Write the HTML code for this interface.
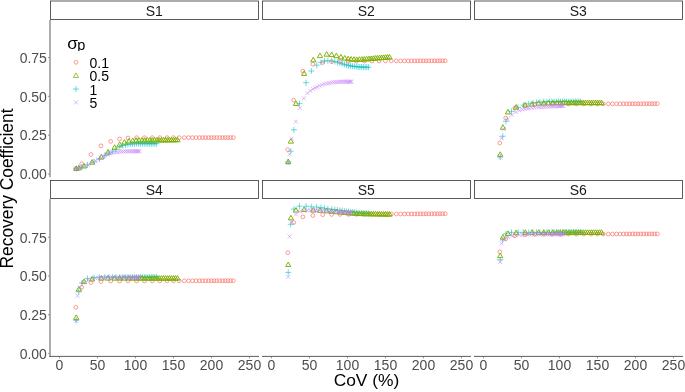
<!DOCTYPE html>
<html><head><meta charset="utf-8"><title>Recovery Coefficient vs CoV</title>
<style>
html,body{margin:0;padding:0;background:#fff}
svg{display:block;font-family:"Liberation Sans",Arial,Helvetica,sans-serif}
.s0,.s1,.s2,.s3{fill:none;stroke-width:.75}
.s0{stroke:#F8766D;stroke-width:.72}.s1{stroke:#7CAE00;stroke-width:.95;stroke-linejoin:round}.s2{stroke:#00BFC4;stroke-width:.58}.s3{stroke:#C77CFF;stroke-width:.55}
.tk{font-size:14px;fill:#4d4d4d}
.st{font-size:14px;fill:#1a1a1a;text-anchor:middle}
.lg{font-size:14px;fill:#000}
.ti{font-size:17.4px;fill:#000;text-anchor:middle}
.ax{stroke:#333;stroke-width:.8;fill:none}
.tc{stroke:#4d4d4d;stroke-width:.6;fill:none}
.sb{stroke:#333;stroke-width:.8;fill:#fff}
</style></head><body>
<svg width="685" height="392" viewBox="0 0 685 392">
<rect width="685" height="392" fill="#fff"/>
<rect class="sb" x="50.5" y="1" width="208" height="18.45"/><text class="st" x="154.2" y="15.7">S1</text>
<rect class="sb" x="262.5" y="1" width="208" height="18.45"/><text class="st" x="366.2" y="15.7">S2</text>
<rect class="sb" x="474.5" y="1" width="208" height="18.45"/><text class="st" x="578.2" y="15.7">S3</text>
<rect class="sb" x="50.5" y="180.5" width="208" height="18"/><text class="st" x="154.2" y="195">S4</text>
<rect class="sb" x="262.5" y="180.5" width="208" height="18"/><text class="st" x="366.2" y="195">S5</text>
<rect class="sb" x="474.5" y="180.5" width="208" height="18"/><text class="st" x="578.2" y="195">S6</text>
<path class="ax" d="M50 20V177.1"/><path class="ax" d="M50 199.2V356.9"/><path class="ax" d="M49.5 356.4H259"/><path class="ax" d="M262 356.4H471"/><path class="ax" d="M474 356.4H683"/>
<path class="tc" d="M48 174H49.4"/><text class="tk" text-anchor="end" x="46.9" y="179.2">0.00</text><path class="tc" d="M48 135.17H49.4"/><text class="tk" text-anchor="end" x="46.9" y="140.37">0.25</text><path class="tc" d="M48 96.34H49.4"/><text class="tk" text-anchor="end" x="46.9" y="101.54">0.50</text><path class="tc" d="M48 57.51H49.4"/><text class="tk" text-anchor="end" x="46.9" y="62.71">0.75</text><path class="tc" d="M48 353.4H49.4"/><text class="tk" text-anchor="end" x="46.9" y="358.6">0.00</text><path class="tc" d="M48 314.7H49.4"/><text class="tk" text-anchor="end" x="46.9" y="319.9">0.25</text><path class="tc" d="M48 276H49.4"/><text class="tk" text-anchor="end" x="46.9" y="281.2">0.50</text><path class="tc" d="M48 237.3H49.4"/><text class="tk" text-anchor="end" x="46.9" y="242.5">0.75</text>
<path class="tc" d="M59.5 356.9V358.3"/><text class="tk" text-anchor="middle" x="59.5" y="369.6">0</text><path class="tc" d="M97.5 356.9V358.3"/><text class="tk" text-anchor="middle" x="97.5" y="369.6">50</text><path class="tc" d="M135.5 356.9V358.3"/><text class="tk" text-anchor="middle" x="135.5" y="369.6">100</text><path class="tc" d="M173.5 356.9V358.3"/><text class="tk" text-anchor="middle" x="173.5" y="369.6">150</text><path class="tc" d="M211.5 356.9V358.3"/><text class="tk" text-anchor="middle" x="211.5" y="369.6">200</text><path class="tc" d="M249.5 356.9V358.3"/><text class="tk" text-anchor="middle" x="249.5" y="369.6">250</text><path class="tc" d="M271.5 356.9V358.3"/><text class="tk" text-anchor="middle" x="271.5" y="369.6">0</text><path class="tc" d="M309.5 356.9V358.3"/><text class="tk" text-anchor="middle" x="309.5" y="369.6">50</text><path class="tc" d="M347.5 356.9V358.3"/><text class="tk" text-anchor="middle" x="347.5" y="369.6">100</text><path class="tc" d="M385.5 356.9V358.3"/><text class="tk" text-anchor="middle" x="385.5" y="369.6">150</text><path class="tc" d="M423.5 356.9V358.3"/><text class="tk" text-anchor="middle" x="423.5" y="369.6">200</text><path class="tc" d="M461.5 356.9V358.3"/><text class="tk" text-anchor="middle" x="461.5" y="369.6">250</text><path class="tc" d="M483.5 356.9V358.3"/><text class="tk" text-anchor="middle" x="483.5" y="369.6">0</text><path class="tc" d="M521.5 356.9V358.3"/><text class="tk" text-anchor="middle" x="521.5" y="369.6">50</text><path class="tc" d="M559.5 356.9V358.3"/><text class="tk" text-anchor="middle" x="559.5" y="369.6">100</text><path class="tc" d="M597.5 356.9V358.3"/><text class="tk" text-anchor="middle" x="597.5" y="369.6">150</text><path class="tc" d="M635.5 356.9V358.3"/><text class="tk" text-anchor="middle" x="635.5" y="369.6">200</text><path class="tc" d="M673.5 356.9V358.3"/><text class="tk" text-anchor="middle" x="673.5" y="369.6">250</text>
<text class="ti" x="366.5" y="386.2">CoV (%)</text>
<text class="ti" transform="translate(13.4 188.5) rotate(-90) scale(1 1.07)">Recovery Coefficient</text>
<svg x="60" y="30" width="60" height="20.9" viewBox="60 30 60 20.9"><text transform="translate(67.2 48.8) scale(1.08 1)" style="font-size:16px;fill:#000">σ</text><text x="77.2" y="49.7" style="font-size:14.5px;fill:#000">p</text></svg>
<g class="s0"><circle cx="75.9" cy="62.3" r="1.9"/></g><text class="lg" x="89.5" y="68.05">0.1</text>
<g class="s1" style="stroke-width:.75"><path d="M75.9 72.9L78.5 77.45L73.3 77.45Z"/></g><text class="lg" x="89.5" y="81.45">0.5</text>
<g class="s2"><path d="M72.9 89H78.9M75.9 86V92"/></g><text class="lg" x="89.5" y="94.75">1</text>
<g class="s3"><path d="M73.9 100.4L77.9 104.4M73.9 104.4L77.9 100.4"/></g><text class="lg" x="89.5" y="108.15">5</text>
<g class="s2"><path d="M73.22 168.7H79.22M76.22 165.7V171.7"/><path d="M75.73 168.1H81.73M78.73 165.1V171.1"/><path d="M78.92 167H84.92M81.92 164V170"/><path d="M84.47 165H90.47M87.47 162V168"/><path d="M91 162H97M94 159V165"/><path d="M96.32 159H102.32M99.32 156V162"/><path d="M101.72 155.5H107.72M104.72 152.5V158.5"/><path d="M105.98 152.8H111.98M108.98 149.8V155.8"/><path d="M109.47 151H115.47M112.47 148V154"/><path d="M112.89 149.22H118.89M115.89 146.22V152.22"/><path d="M116.77 147.13H122.77M119.77 144.13V150.13"/><path d="M119.81 145.55H125.81M122.81 142.55V148.55"/><path d="M122.47 144.97H128.47M125.47 141.97V147.97"/><path d="M124.9 144.43H130.9M127.9 141.43V147.43"/><path d="M127.18 144.05H133.18M130.18 141.05V147.05"/><path d="M129.38 143.91H135.38M132.38 140.91V146.91"/><path d="M131.51 143.76H137.51M134.51 140.76V146.76"/><path d="M133.56 143.7H139.56M136.56 140.7V146.7"/><path d="M135.54 143.7H141.54M138.54 140.7V146.7"/><path d="M137.52 143.7H143.52M140.52 140.7V146.7"/><path d="M139.42 143.7H145.42M142.42 140.7V146.7"/><path d="M141.24 143.7H147.24M144.24 140.7V146.7"/><path d="M143.06 143.7H149.06M146.06 140.7V146.7"/><path d="M144.89 143.7H150.89M147.89 140.7V146.7"/><path d="M146.64 143.7H152.64M149.64 140.7V146.7"/><path d="M148.38 143.7H154.38M151.38 140.7V146.7"/><path d="M150.13 143.7H156.13M153.13 140.7V146.7"/><path d="M151.8 143.7H157.8M154.8 140.7V146.7"/><path d="M153.48 143.7H159.48M156.48 140.7V146.7"/></g>
<g class="s0"><circle cx="75.76" cy="168.5" r="1.9"/><circle cx="81.69" cy="163.8" r="1.9"/><circle cx="90.89" cy="154.5" r="1.9"/><circle cx="100.92" cy="145.8" r="1.9"/><circle cx="110.72" cy="141.4" r="1.9"/><circle cx="119.62" cy="138.9" r="1.9"/><circle cx="127.98" cy="138" r="1.9"/><circle cx="136.56" cy="137.7" r="1.9"/><circle cx="144.47" cy="137.69" r="1.9"/><circle cx="152.37" cy="137.68" r="1.9"/><circle cx="159.82" cy="137.68" r="1.9"/><circle cx="167.12" cy="137.67" r="1.9"/><circle cx="173.42" cy="137.66" r="1.9"/><circle cx="179.2" cy="137.66" r="1.9"/><circle cx="184.29" cy="137.65" r="1.9"/><circle cx="188.55" cy="137.65" r="1.9"/><circle cx="192.5" cy="137.64" r="1.9"/><circle cx="196.15" cy="137.64" r="1.9"/><circle cx="199.49" cy="137.64" r="1.9"/><circle cx="202.61" cy="137.63" r="1.9"/><circle cx="205.57" cy="137.63" r="1.9"/><circle cx="208.46" cy="137.63" r="1.9"/><circle cx="211.27" cy="137.62" r="1.9"/><circle cx="214.01" cy="137.62" r="1.9"/><circle cx="216.82" cy="137.62" r="1.9"/><circle cx="219.71" cy="137.61" r="1.9"/><circle cx="222.52" cy="137.61" r="1.9"/><circle cx="225.26" cy="137.61" r="1.9"/><circle cx="227.92" cy="137.61" r="1.9"/><circle cx="230.58" cy="137.6" r="1.9"/><circle cx="233.31" cy="137.6" r="1.9"/></g>
<g class="s1"><path d="M76.22 165.96L78.82 170.51L73.62 170.51Z"/><path d="M78.88 165.32L81.48 169.87L76.28 169.87Z"/><path d="M83.97 163.42L86.57 167.97L81.37 167.97Z"/><path d="M92.1 159.6L94.7 164.15L89.5 164.15Z"/><path d="M101.3 154.43L103.9 158.98L98.7 158.98Z"/><path d="M107.99 149.58L110.59 154.13L105.39 154.13Z"/><path d="M114.6 144.76L117.2 149.31L112 149.31Z"/><path d="M119.69 141.75L122.29 146.3L117.09 146.3Z"/><path d="M124.4 139.62L127 144.17L121.8 144.17Z"/><path d="M128.89 138.51L131.49 143.06L126.29 143.06Z"/><path d="M132.76 137.99L135.36 142.54L130.16 142.54Z"/><path d="M136.18 137.69L138.78 142.24L133.58 142.24Z"/><path d="M139.07 137.66L141.67 142.21L136.47 142.21Z"/><path d="M141.96 137.62L144.56 142.17L139.36 142.17Z"/><path d="M144.7 137.59L147.3 142.14L142.1 142.14Z"/><path d="M147.36 137.56L149.96 142.11L144.76 142.11Z"/><path d="M149.86 137.53L152.46 142.08L147.26 142.08Z"/><path d="M152.3 137.5L154.9 142.05L149.7 142.05Z"/><path d="M154.65 137.47L157.25 142.03L152.05 142.03Z"/><path d="M156.93 137.45L159.53 142L154.33 142Z"/><path d="M159.21 137.42L161.81 141.97L156.61 141.97Z"/><path d="M161.42 137.4L164.02 141.95L158.82 141.95Z"/><path d="M163.47 137.37L166.07 141.92L160.87 141.92Z"/><path d="M165.52 137.35L168.12 141.9L162.92 141.9Z"/><path d="M167.57 137.32L170.17 141.87L164.97 141.87Z"/><path d="M169.55 137.3L172.15 141.85L166.95 141.85Z"/><path d="M171.52 137.28L174.12 141.83L168.92 141.83Z"/><path d="M173.58 137.25L176.18 141.8L170.98 141.8Z"/><path d="M175.55 137.23L178.15 141.78L172.95 141.78Z"/><path d="M177.53 137.21L180.13 141.76L174.93 141.76Z"/></g>
<g class="s3"><path d="M74.22 166.8L78.22 170.8M74.22 170.8L78.22 166.8"/><path d="M75.59 166.5L79.59 170.5M75.59 170.5L79.59 166.5"/><path d="M77.87 166L81.87 170M77.87 170L81.87 166"/><path d="M81.82 164.5L85.82 168.5M81.82 168.5L85.82 164.5"/><path d="M85.77 163L89.77 167M85.77 167L89.77 163"/><path d="M89.72 161L93.72 165M89.72 165L93.72 161"/><path d="M93.52 158.64L97.52 162.64M93.52 162.64L97.52 158.64"/><path d="M96.26 157.3L100.26 161.3M96.26 161.3L100.26 157.3"/><path d="M98.92 155.8L102.92 159.8M98.92 159.8L102.92 155.8"/><path d="M101.2 154.55L105.2 158.55M101.2 158.55L105.2 154.55"/><path d="M103.1 153.5L107.1 157.5M103.1 157.5L107.1 153.5"/><path d="M105.68 152.62L109.68 156.62M105.68 156.62L109.68 152.62"/><path d="M108.19 151.79L112.19 155.79M108.19 155.79L112.19 151.79"/><path d="M110.62 151.02L114.62 155.02M110.62 155.02L114.62 151.02"/><path d="M112.98 150.42L116.98 154.42M112.98 154.42L116.98 150.42"/><path d="M115.18 150.08L119.18 154.08M115.18 154.08L119.18 150.08"/><path d="M117.39 149.81L121.39 153.81M117.39 153.81L121.39 149.81"/><path d="M119.44 149.61L123.44 153.61M119.44 153.61L123.44 149.61"/><path d="M121.42 149.47L125.42 153.47M121.42 153.47L125.42 149.47"/><path d="M123.32 149.32L127.32 153.32M123.32 153.32L127.32 149.32"/><path d="M125.14 149.29L129.14 153.29M125.14 153.29L129.14 149.29"/><path d="M126.89 149.28L130.89 153.28M126.89 153.28L130.89 149.28"/><path d="M128.48 149.27L132.48 153.27M128.48 153.27L132.48 149.27"/><path d="M130.08 149.26L134.08 153.26M130.08 153.26L134.08 149.26"/><path d="M131.52 149.25L135.52 153.25M131.52 153.25L135.52 149.25"/><path d="M132.89 149.24L136.89 153.24M132.89 153.24L136.89 149.24"/><path d="M134.18 149.23L138.18 153.23M134.18 153.23L138.18 149.23"/><path d="M135.4 149.22L139.4 153.22M135.4 153.22L139.4 149.22"/><path d="M136.46 149.21L140.46 153.21M136.46 153.21L140.46 149.21"/><path d="M137.53 149.2L141.53 153.2M137.53 153.2L141.53 149.2"/></g>
<g class="s2"><path d="M285.22 162H291.22M288.22 159V165"/><path d="M287.73 151.2H293.73M290.73 148.2V154.2"/><path d="M290.92 129.8H296.92M293.92 126.8V132.8"/><path d="M296.47 103.6H302.47M299.47 100.6V106.6"/><path d="M303 82.73H309M306 79.73V85.73"/><path d="M308.32 71.03H314.32M311.32 68.03V74.03"/><path d="M313.72 65.15H319.72M316.72 62.15V68.15"/><path d="M317.98 62.35H323.98M320.98 59.35V65.35"/><path d="M321.47 61.08H327.47M324.47 58.08V64.08"/><path d="M324.89 60.78H330.89M327.89 57.78V63.78"/><path d="M328.77 60.93H334.77M331.77 57.93V63.93"/><path d="M331.81 61.6H337.81M334.81 58.6V64.6"/><path d="M334.47 62.32H340.47M337.47 59.32V65.32"/><path d="M336.9 63.06H342.9M339.9 60.06V66.06"/><path d="M339.18 63.76H345.18M342.18 60.76V66.76"/><path d="M341.38 64.38H347.38M344.38 61.38V67.38"/><path d="M343.51 64.94H349.51M346.51 61.94V67.94"/><path d="M345.56 65.48H351.56M348.56 62.48V68.48"/><path d="M347.54 65.91H353.54M350.54 62.91V68.91"/><path d="M349.52 66.18H355.52M352.52 63.18V69.18"/><path d="M351.42 66.44H357.42M354.42 63.44V69.44"/><path d="M353.24 66.69H359.24M356.24 63.69V69.69"/><path d="M355.06 66.86H361.06M358.06 63.86V69.86"/><path d="M356.89 66.97H362.89M359.89 63.97V69.97"/><path d="M358.64 67.07H364.64M361.64 64.07V70.07"/><path d="M360.38 67.17H366.38M363.38 64.17V70.17"/><path d="M362.13 67.2H368.13M365.13 64.2V70.2"/><path d="M363.8 67.2H369.8M366.8 64.2V70.2"/><path d="M365.48 67.2H371.48M368.48 64.2V70.2"/></g>
<g class="s0"><circle cx="287.76" cy="149.6" r="1.9"/><circle cx="293.69" cy="100.2" r="1.9"/><circle cx="302.89" cy="71.2" r="1.9"/><circle cx="312.92" cy="64.3" r="1.9"/><circle cx="322.72" cy="62.5" r="1.9"/><circle cx="331.62" cy="61.7" r="1.9"/><circle cx="339.98" cy="61.4" r="1.9"/><circle cx="348.56" cy="61.29" r="1.9"/><circle cx="356.47" cy="61.19" r="1.9"/><circle cx="364.37" cy="61.11" r="1.9"/><circle cx="371.82" cy="61.04" r="1.9"/><circle cx="379.12" cy="60.96" r="1.9"/><circle cx="385.42" cy="60.9" r="1.9"/><circle cx="391.2" cy="60.89" r="1.9"/><circle cx="396.29" cy="60.88" r="1.9"/><circle cx="400.55" cy="60.88" r="1.9"/><circle cx="404.5" cy="60.87" r="1.9"/><circle cx="408.15" cy="60.86" r="1.9"/><circle cx="411.49" cy="60.86" r="1.9"/><circle cx="414.61" cy="60.85" r="1.9"/><circle cx="417.57" cy="60.85" r="1.9"/><circle cx="420.46" cy="60.84" r="1.9"/><circle cx="423.27" cy="60.84" r="1.9"/><circle cx="426.01" cy="60.83" r="1.9"/><circle cx="428.82" cy="60.83" r="1.9"/><circle cx="431.71" cy="60.82" r="1.9"/><circle cx="434.52" cy="60.82" r="1.9"/><circle cx="437.26" cy="60.81" r="1.9"/><circle cx="439.92" cy="60.81" r="1.9"/><circle cx="442.58" cy="60.81" r="1.9"/><circle cx="445.31" cy="60.8" r="1.9"/></g>
<g class="s1"><path d="M288.22 159L290.82 163.55L285.62 163.55Z"/><path d="M290.88 138.6L293.48 143.15L288.28 143.15Z"/><path d="M295.97 100.9L298.57 105.45L293.37 105.45Z"/><path d="M304.1 70.9L306.7 75.45L301.5 75.45Z"/><path d="M313.3 57.2L315.9 61.75L310.7 61.75Z"/><path d="M319.99 53.09L322.59 57.64L317.39 57.64Z"/><path d="M326.6 51.61L329.2 56.16L324 56.16Z"/><path d="M331.69 52.03L334.29 56.58L329.09 56.58Z"/><path d="M336.4 53.09L339 57.64L333.8 57.64Z"/><path d="M340.89 54.36L343.49 58.91L338.29 58.91Z"/><path d="M344.76 55.5L347.36 60.05L342.16 60.05Z"/><path d="M348.18 56.18L350.78 60.73L345.58 60.73Z"/><path d="M351.07 56.57L353.67 61.12L348.47 61.12Z"/><path d="M353.96 56.73L356.56 61.28L351.36 61.28Z"/><path d="M356.7 56.88L359.3 61.43L354.1 61.43Z"/><path d="M359.36 56.77L361.96 61.32L356.76 61.32Z"/><path d="M361.86 56.62L364.46 61.17L359.26 61.17Z"/><path d="M364.3 56.48L366.9 61.03L361.7 61.03Z"/><path d="M366.65 56.31L369.25 60.86L364.05 60.86Z"/><path d="M368.93 56.15L371.53 60.7L366.33 60.7Z"/><path d="M371.21 55.98L373.81 60.53L368.61 60.53Z"/><path d="M373.42 55.76L376.02 60.31L370.82 60.31Z"/><path d="M375.47 55.55L378.07 60.1L372.87 60.1Z"/><path d="M377.52 55.34L380.12 59.89L374.92 59.89Z"/><path d="M379.57 55.18L382.17 59.73L376.97 59.73Z"/><path d="M381.55 55.05L384.15 59.6L378.95 59.6Z"/><path d="M383.52 54.91L386.12 59.46L380.92 59.46Z"/><path d="M385.58 54.76L388.18 59.31L382.98 59.31Z"/><path d="M387.55 54.6L390.15 59.15L384.95 59.15Z"/><path d="M389.53 54.44L392.13 58.99L386.93 58.99Z"/></g>
<g class="s3"><path d="M286.22 161L290.22 165M286.22 165L290.22 161"/><path d="M287.59 152.3L291.59 156.3M287.59 156.3L291.59 152.3"/><path d="M289.87 136.6L293.87 140.6M289.87 140.6L293.87 136.6"/><path d="M293.82 119.6L297.82 123.6M293.82 123.6L297.82 119.6"/><path d="M297.77 106L301.77 110M297.77 110L301.77 106"/><path d="M301.72 96.28L305.72 100.28M301.72 100.28L305.72 96.28"/><path d="M305.52 91.15L309.52 95.15M305.52 95.15L309.52 91.15"/><path d="M308.26 88.9L312.26 92.9M308.26 92.9L312.26 88.9"/><path d="M310.92 87.11L314.92 91.11M310.92 91.11L314.92 87.11"/><path d="M313.2 85.87L317.2 89.87M313.2 89.87L317.2 85.87"/><path d="M315.1 84.87L319.1 88.87M315.1 88.87L319.1 84.87"/><path d="M317.68 83.8L321.68 87.8M317.68 87.8L321.68 83.8"/><path d="M320.19 82.76L324.19 86.76M320.19 86.76L324.19 82.76"/><path d="M322.62 81.94L326.62 85.94M322.62 85.94L326.62 81.94"/><path d="M324.98 81.48L328.98 85.48M324.98 85.48L328.98 81.48"/><path d="M327.18 81.06L331.18 85.06M327.18 85.06L331.18 81.06"/><path d="M329.39 80.63L333.39 84.63M329.39 84.63L333.39 80.63"/><path d="M331.44 80.33L335.44 84.33M331.44 84.33L335.44 80.33"/><path d="M333.42 80.18L337.42 84.18M333.42 84.18L337.42 80.18"/><path d="M335.32 80.03L339.32 84.03M335.32 84.03L339.32 80.03"/><path d="M337.14 79.88L341.14 83.88M337.14 83.88L341.14 79.88"/><path d="M338.89 79.74L342.89 83.74M338.89 83.74L342.89 79.74"/><path d="M340.48 79.7L344.48 83.7M340.48 83.7L344.48 79.7"/><path d="M342.08 79.7L346.08 83.7M342.08 83.7L346.08 79.7"/><path d="M343.52 79.7L347.52 83.7M343.52 83.7L347.52 79.7"/><path d="M344.89 79.7L348.89 83.7M344.89 83.7L348.89 79.7"/><path d="M346.18 79.7L350.18 83.7M346.18 83.7L350.18 79.7"/><path d="M347.4 79.7L351.4 83.7M347.4 83.7L351.4 79.7"/><path d="M348.46 79.7L352.46 83.7M348.46 83.7L352.46 79.7"/><path d="M349.53 79.7L353.53 83.7M349.53 83.7L353.53 79.7"/></g>
<g class="s2"><path d="M497.22 157H503.22M500.22 154V160"/><path d="M499.73 136.23H505.73M502.73 133.23V139.23"/><path d="M502.92 121.28H508.92M505.92 118.28V124.28"/><path d="M508.47 111.4H514.47M511.47 108.4V114.4"/><path d="M515 107.37H521M518 104.37V110.37"/><path d="M520.32 105.13H526.32M523.32 102.13V108.13"/><path d="M525.72 103.84H531.72M528.72 100.84V106.84"/><path d="M529.98 103.12H535.98M532.98 100.12V106.12"/><path d="M533.47 102.54H539.47M536.47 99.54V105.54"/><path d="M536.89 102.16H542.89M539.89 99.16V105.16"/><path d="M540.77 101.76H546.77M543.77 98.76V104.76"/><path d="M543.81 101.69H549.81M546.81 98.69V104.69"/><path d="M546.47 101.69H552.47M549.47 98.69V104.69"/><path d="M548.9 101.68H554.9M551.9 98.68V104.68"/><path d="M551.18 101.67H557.18M554.18 98.67V104.67"/><path d="M553.38 101.67H559.38M556.38 98.67V104.67"/><path d="M555.51 101.66H561.51M558.51 98.66V104.66"/><path d="M557.56 101.66H563.56M560.56 98.66V104.66"/><path d="M559.54 101.65H565.54M562.54 98.65V104.65"/><path d="M561.52 101.64H567.52M564.52 98.64V104.64"/><path d="M563.42 101.64H569.42M566.42 98.64V104.64"/><path d="M565.24 101.63H571.24M568.24 98.63V104.63"/><path d="M567.06 101.63H573.06M570.06 98.63V104.63"/><path d="M568.89 101.62H574.89M571.89 98.62V104.62"/><path d="M570.64 101.62H576.64M573.64 98.62V104.62"/><path d="M572.38 101.61H578.38M575.38 98.61V104.61"/><path d="M574.13 101.61H580.13M577.13 98.61V104.61"/><path d="M575.8 101.61H581.8M578.8 98.61V104.61"/><path d="M577.48 101.6H583.48M580.48 98.6V104.6"/></g>
<g class="s0"><circle cx="499.76" cy="143" r="1.9"/><circle cx="505.69" cy="118" r="1.9"/><circle cx="514.89" cy="108" r="1.9"/><circle cx="524.92" cy="105.5" r="1.9"/><circle cx="534.72" cy="104.49" r="1.9"/><circle cx="543.62" cy="104.24" r="1.9"/><circle cx="551.98" cy="104" r="1.9"/><circle cx="560.56" cy="103.98" r="1.9"/><circle cx="568.47" cy="103.95" r="1.9"/><circle cx="576.37" cy="103.93" r="1.9"/><circle cx="583.82" cy="103.91" r="1.9"/><circle cx="591.12" cy="103.89" r="1.9"/><circle cx="597.42" cy="103.87" r="1.9"/><circle cx="603.2" cy="103.86" r="1.9"/><circle cx="608.29" cy="103.84" r="1.9"/><circle cx="612.55" cy="103.83" r="1.9"/><circle cx="616.5" cy="103.82" r="1.9"/><circle cx="620.15" cy="103.81" r="1.9"/><circle cx="623.49" cy="103.8" r="1.9"/><circle cx="626.61" cy="103.79" r="1.9"/><circle cx="629.57" cy="103.78" r="1.9"/><circle cx="632.46" cy="103.77" r="1.9"/><circle cx="635.27" cy="103.76" r="1.9"/><circle cx="638.01" cy="103.76" r="1.9"/><circle cx="640.82" cy="103.75" r="1.9"/><circle cx="643.71" cy="103.74" r="1.9"/><circle cx="646.52" cy="103.73" r="1.9"/><circle cx="649.26" cy="103.73" r="1.9"/><circle cx="651.92" cy="103.72" r="1.9"/><circle cx="654.58" cy="103.71" r="1.9"/><circle cx="657.31" cy="103.7" r="1.9"/></g>
<g class="s1"><path d="M500.22 151.8L502.82 156.35L497.62 156.35Z"/><path d="M502.88 124.7L505.48 129.25L500.28 129.25Z"/><path d="M507.97 109.41L510.57 113.96L505.37 113.96Z"/><path d="M516.1 104.55L518.7 109.1L513.5 109.1Z"/><path d="M525.3 102.4L527.9 106.95L522.7 106.95Z"/><path d="M531.99 101.52L534.59 106.07L529.39 106.07Z"/><path d="M538.6 100.59L541.2 105.14L536 105.14Z"/><path d="M543.69 100.47L546.29 105.02L541.09 105.02Z"/><path d="M548.4 100.36L551 104.91L545.8 104.91Z"/><path d="M552.89 100.26L555.49 104.81L550.29 104.81Z"/><path d="M556.76 100.16L559.36 104.71L554.16 104.71Z"/><path d="M560.18 100.1L562.78 104.65L557.58 104.65Z"/><path d="M563.07 100.1L565.67 104.65L560.47 104.65Z"/><path d="M565.96 100.1L568.56 104.65L563.36 104.65Z"/><path d="M568.7 100.1L571.3 104.65L566.1 104.65Z"/><path d="M571.36 100.1L573.96 104.65L568.76 104.65Z"/><path d="M573.86 100.1L576.46 104.65L571.26 104.65Z"/><path d="M576.3 100.1L578.9 104.65L573.7 104.65Z"/><path d="M578.65 100.1L581.25 104.65L576.05 104.65Z"/><path d="M580.93 100.1L583.53 104.65L578.33 104.65Z"/><path d="M583.21 100.1L585.81 104.65L580.61 104.65Z"/><path d="M585.42 100.1L588.02 104.65L582.82 104.65Z"/><path d="M587.47 100.1L590.07 104.65L584.87 104.65Z"/><path d="M589.52 100.1L592.12 104.65L586.92 104.65Z"/><path d="M591.57 100.1L594.17 104.65L588.97 104.65Z"/><path d="M593.55 100.1L596.15 104.65L590.95 104.65Z"/><path d="M595.52 100.1L598.12 104.65L592.92 104.65Z"/><path d="M597.58 100.1L600.18 104.65L594.98 104.65Z"/><path d="M599.55 100.1L602.15 104.65L596.95 104.65Z"/><path d="M601.53 100.1L604.13 104.65L598.93 104.65Z"/></g>
<g class="s3"><path d="M498.22 155.5L502.22 159.5M498.22 159.5L502.22 155.5"/><path d="M499.59 136.2L503.59 140.2M499.59 140.2L503.59 136.2"/><path d="M501.87 127.28L505.87 131.28M501.87 131.28L505.87 127.28"/><path d="M505.82 117.4L509.82 121.4M505.82 121.4L509.82 117.4"/><path d="M509.77 112.86L513.77 116.86M509.77 116.86L513.77 112.86"/><path d="M513.72 109.98L517.72 113.98M513.72 113.98L517.72 109.98"/><path d="M517.52 108.36L521.52 112.36M517.52 112.36L521.52 108.36"/><path d="M520.26 107.58L524.26 111.58M520.26 111.58L524.26 107.58"/><path d="M522.92 106.99L526.92 110.99M522.92 110.99L526.92 106.99"/><path d="M525.2 106.48L529.2 110.48M525.2 110.48L529.2 106.48"/><path d="M527.1 106.2L531.1 110.2M527.1 110.2L531.1 106.2"/><path d="M529.68 105.86L533.68 109.86M529.68 109.86L533.68 105.86"/><path d="M532.19 105.53L536.19 109.53M532.19 109.53L536.19 105.53"/><path d="M534.62 105.21L538.62 109.21M534.62 109.21L538.62 105.21"/><path d="M536.98 104.97L540.98 108.97M536.98 108.97L540.98 104.97"/><path d="M539.18 104.87L543.18 108.87M539.18 108.87L543.18 104.87"/><path d="M541.39 104.77L545.39 108.77M541.39 108.77L545.39 104.77"/><path d="M543.44 104.68L547.44 108.68M543.44 108.68L547.44 104.68"/><path d="M545.42 104.6L549.42 108.6M545.42 108.6L549.42 104.6"/><path d="M547.32 104.51L551.32 108.51M547.32 108.51L551.32 104.51"/><path d="M549.14 104.43L553.14 108.43M549.14 108.43L553.14 104.43"/><path d="M550.89 104.37L554.89 108.37M550.89 108.37L554.89 104.37"/><path d="M552.48 104.31L556.48 108.31M552.48 108.31L556.48 104.31"/><path d="M554.08 104.26L558.08 108.26M554.08 108.26L558.08 104.26"/><path d="M555.52 104.22L559.52 108.22M555.52 108.22L559.52 104.22"/><path d="M556.89 104.17L560.89 108.17M556.89 108.17L560.89 104.17"/><path d="M558.18 104.13L562.18 108.13M558.18 108.13L562.18 104.13"/><path d="M559.4 104.09L563.4 108.09M559.4 108.09L563.4 104.09"/><path d="M560.46 104.05L564.46 108.05M560.46 108.05L564.46 104.05"/><path d="M561.53 104.02L565.53 108.02M561.53 108.02L565.53 104.02"/></g>
<g class="s2"><path d="M73.22 320.4H79.22M76.22 317.4V323.4"/><path d="M75.73 291.8H81.73M78.73 288.8V294.8"/><path d="M78.92 283H84.92M81.92 280V286"/><path d="M84.47 278.6H90.47M87.47 275.6V281.6"/><path d="M91 277.48H97M94 274.48V280.48"/><path d="M96.32 277.2H102.32M99.32 274.2V280.2"/><path d="M101.72 277.2H107.72M104.72 274.2V280.2"/><path d="M105.98 277.2H111.98M108.98 274.2V280.2"/><path d="M109.47 277.2H115.47M112.47 274.2V280.2"/><path d="M112.89 277.2H118.89M115.89 274.2V280.2"/><path d="M116.77 277.2H122.77M119.77 274.2V280.2"/><path d="M119.81 277.2H125.81M122.81 274.2V280.2"/><path d="M122.47 277.2H128.47M125.47 274.2V280.2"/><path d="M124.9 277.2H130.9M127.9 274.2V280.2"/><path d="M127.18 277.2H133.18M130.18 274.2V280.2"/><path d="M129.38 277.2H135.38M132.38 274.2V280.2"/><path d="M131.51 277.2H137.51M134.51 274.2V280.2"/><path d="M133.56 277.2H139.56M136.56 274.2V280.2"/><path d="M135.54 277.2H141.54M138.54 274.2V280.2"/><path d="M137.52 277.2H143.52M140.52 274.2V280.2"/><path d="M139.42 277.2H145.42M142.42 274.2V280.2"/><path d="M141.24 277.2H147.24M144.24 274.2V280.2"/><path d="M143.06 277.2H149.06M146.06 274.2V280.2"/><path d="M144.89 277.2H150.89M147.89 274.2V280.2"/><path d="M146.64 277.2H152.64M149.64 274.2V280.2"/><path d="M148.38 277.2H154.38M151.38 274.2V280.2"/><path d="M150.13 277.2H156.13M153.13 274.2V280.2"/><path d="M151.8 277.2H157.8M154.8 274.2V280.2"/><path d="M153.48 277.2H159.48M156.48 274.2V280.2"/></g>
<g class="s0"><circle cx="75.76" cy="307.3" r="1.9"/><circle cx="81.69" cy="287.3" r="1.9"/><circle cx="90.89" cy="282.6" r="1.9"/><circle cx="100.92" cy="281.6" r="1.9"/><circle cx="110.72" cy="281" r="1.9"/><circle cx="119.62" cy="280.98" r="1.9"/><circle cx="127.98" cy="280.96" r="1.9"/><circle cx="136.56" cy="280.94" r="1.9"/><circle cx="144.47" cy="280.92" r="1.9"/><circle cx="152.37" cy="280.9" r="1.9"/><circle cx="159.82" cy="280.88" r="1.9"/><circle cx="167.12" cy="280.86" r="1.9"/><circle cx="173.42" cy="280.85" r="1.9"/><circle cx="179.2" cy="280.83" r="1.9"/><circle cx="184.29" cy="280.82" r="1.9"/><circle cx="188.55" cy="280.81" r="1.9"/><circle cx="192.5" cy="280.8" r="1.9"/><circle cx="196.15" cy="280.79" r="1.9"/><circle cx="199.49" cy="280.78" r="1.9"/><circle cx="202.61" cy="280.78" r="1.9"/><circle cx="205.57" cy="280.77" r="1.9"/><circle cx="208.46" cy="280.76" r="1.9"/><circle cx="211.27" cy="280.76" r="1.9"/><circle cx="214.01" cy="280.75" r="1.9"/><circle cx="216.82" cy="280.74" r="1.9"/><circle cx="219.71" cy="280.74" r="1.9"/><circle cx="222.52" cy="280.73" r="1.9"/><circle cx="225.26" cy="280.72" r="1.9"/><circle cx="227.92" cy="280.72" r="1.9"/><circle cx="230.58" cy="280.71" r="1.9"/><circle cx="233.31" cy="280.7" r="1.9"/></g>
<g class="s1"><path d="M76.22 314.9L78.82 319.45L73.62 319.45Z"/><path d="M78.88 286.59L81.48 291.14L76.28 291.14Z"/><path d="M83.97 279.05L86.57 283.6L81.37 283.6Z"/><path d="M92.1 276.48L94.7 281.03L89.5 281.03Z"/><path d="M101.3 275.6L103.9 280.15L98.7 280.15Z"/><path d="M107.99 275.6L110.59 280.15L105.39 280.15Z"/><path d="M114.6 275.6L117.2 280.15L112 280.15Z"/><path d="M119.69 275.6L122.29 280.15L117.09 280.15Z"/><path d="M124.4 275.6L127 280.15L121.8 280.15Z"/><path d="M128.89 275.6L131.49 280.15L126.29 280.15Z"/><path d="M132.76 275.6L135.36 280.15L130.16 280.15Z"/><path d="M136.18 275.6L138.78 280.15L133.58 280.15Z"/><path d="M139.07 275.6L141.67 280.15L136.47 280.15Z"/><path d="M141.96 275.6L144.56 280.15L139.36 280.15Z"/><path d="M144.7 275.6L147.3 280.15L142.1 280.15Z"/><path d="M147.36 275.6L149.96 280.15L144.76 280.15Z"/><path d="M149.86 275.6L152.46 280.15L147.26 280.15Z"/><path d="M152.3 275.6L154.9 280.15L149.7 280.15Z"/><path d="M154.65 275.6L157.25 280.15L152.05 280.15Z"/><path d="M156.93 275.6L159.53 280.15L154.33 280.15Z"/><path d="M159.21 275.6L161.81 280.15L156.61 280.15Z"/><path d="M161.42 275.6L164.02 280.15L158.82 280.15Z"/><path d="M163.47 275.6L166.07 280.15L160.87 280.15Z"/><path d="M165.52 275.6L168.12 280.15L162.92 280.15Z"/><path d="M167.57 275.6L170.17 280.15L164.97 280.15Z"/><path d="M169.55 275.6L172.15 280.15L166.95 280.15Z"/><path d="M171.52 275.6L174.12 280.15L168.92 280.15Z"/><path d="M173.58 275.6L176.18 280.15L170.98 280.15Z"/><path d="M175.55 275.6L178.15 280.15L172.95 280.15Z"/><path d="M177.53 275.6L180.13 280.15L174.93 280.15Z"/></g>
<g class="s3"><path d="M74.22 319L78.22 323M74.22 323L78.22 319"/><path d="M75.59 293.7L79.59 297.7M75.59 297.7L79.59 293.7"/><path d="M77.87 285.3L81.87 289.3M77.87 289.3L81.87 285.3"/><path d="M81.82 280L85.82 284M81.82 284L85.82 280"/><path d="M85.77 278.15L89.77 282.15M85.77 282.15L89.77 278.15"/><path d="M89.72 276.94L93.72 280.94M89.72 280.94L93.72 276.94"/><path d="M93.52 276.26L97.52 280.26M93.52 280.26L97.52 276.26"/><path d="M96.26 275.9L100.26 279.9M96.26 279.9L100.26 275.9"/><path d="M98.92 275.55L102.92 279.55M98.92 279.55L102.92 275.55"/><path d="M101.2 275.5L105.2 279.5M101.2 279.5L105.2 275.5"/><path d="M103.1 275.5L107.1 279.5M103.1 279.5L107.1 275.5"/><path d="M105.68 275.5L109.68 279.5M105.68 279.5L109.68 275.5"/><path d="M108.19 275.5L112.19 279.5M108.19 279.5L112.19 275.5"/><path d="M110.62 275.5L114.62 279.5M110.62 279.5L114.62 275.5"/><path d="M112.98 275.5L116.98 279.5M112.98 279.5L116.98 275.5"/><path d="M115.18 275.5L119.18 279.5M115.18 279.5L119.18 275.5"/><path d="M117.39 275.5L121.39 279.5M117.39 279.5L121.39 275.5"/><path d="M119.44 275.5L123.44 279.5M119.44 279.5L123.44 275.5"/><path d="M121.42 275.5L125.42 279.5M121.42 279.5L125.42 275.5"/><path d="M123.32 275.5L127.32 279.5M123.32 279.5L127.32 275.5"/><path d="M125.14 275.5L129.14 279.5M125.14 279.5L129.14 275.5"/><path d="M126.89 275.5L130.89 279.5M126.89 279.5L130.89 275.5"/><path d="M128.48 275.5L132.48 279.5M128.48 279.5L132.48 275.5"/><path d="M130.08 275.5L134.08 279.5M130.08 279.5L134.08 275.5"/><path d="M131.52 275.5L135.52 279.5M131.52 279.5L135.52 275.5"/><path d="M132.89 275.5L136.89 279.5M132.89 279.5L136.89 275.5"/><path d="M134.18 275.5L138.18 279.5M134.18 279.5L138.18 275.5"/><path d="M135.4 275.5L139.4 279.5M135.4 279.5L139.4 275.5"/><path d="M136.46 275.5L140.46 279.5M136.46 279.5L140.46 275.5"/><path d="M137.53 275.5L141.53 279.5M137.53 279.5L141.53 275.5"/></g>
<g class="s2"><path d="M285.22 272.4H291.22M288.22 269.4V275.4"/><path d="M287.73 224.3H293.73M290.73 221.3V227.3"/><path d="M290.92 209.1H296.92M293.92 206.1V212.1"/><path d="M296.47 206.2H302.47M299.47 203.2V209.2"/><path d="M303 206.2H309M306 203.2V209.2"/><path d="M308.32 206.8H314.32M311.32 203.8V209.8"/><path d="M313.72 207.1H319.72M316.72 204.1V210.1"/><path d="M317.98 207.61H323.98M320.98 204.61V210.61"/><path d="M321.47 208.26H327.47M324.47 205.26V211.26"/><path d="M324.89 208.72H330.89M327.89 205.72V211.72"/><path d="M328.77 209.3H334.77M331.77 206.3V212.3"/><path d="M331.81 209.75H337.81M334.81 206.75V212.75"/><path d="M334.47 210.14H340.47M337.47 207.14V213.14"/><path d="M336.9 210.5H342.9M339.9 207.5V213.5"/><path d="M339.18 210.8H345.18M342.18 207.8V213.8"/><path d="M341.38 211.09H347.38M344.38 208.09V214.09"/><path d="M343.51 211.37H349.51M346.51 208.37V214.37"/><path d="M345.56 211.64H351.56M348.56 208.64V214.64"/><path d="M347.54 211.9H353.54M350.54 208.9V214.9"/><path d="M349.52 212.16H355.52M352.52 209.16V215.16"/><path d="M351.42 212.41H357.42M354.42 209.41V215.41"/><path d="M353.24 212.65H359.24M356.24 209.65V215.65"/><path d="M355.06 212.89H361.06M358.06 209.89V215.89"/><path d="M356.89 213.05H362.89M359.89 210.05V216.05"/><path d="M358.64 213.14H364.64M361.64 210.14V216.14"/><path d="M360.38 213.23H366.38M363.38 210.23V216.23"/><path d="M362.13 213.32H368.13M365.13 210.32V216.32"/><path d="M363.8 213.4H369.8M366.8 210.4V216.4"/><path d="M365.48 213.48H371.48M368.48 210.48V216.48"/></g>
<g class="s0"><circle cx="287.76" cy="252.7" r="1.9"/><circle cx="293.69" cy="222.5" r="1.9"/><circle cx="302.89" cy="216.9" r="1.9"/><circle cx="312.92" cy="215.5" r="1.9"/><circle cx="322.72" cy="214.7" r="1.9"/><circle cx="331.62" cy="214.4" r="1.9"/><circle cx="339.98" cy="214.35" r="1.9"/><circle cx="348.56" cy="214.31" r="1.9"/><circle cx="356.47" cy="214.26" r="1.9"/><circle cx="364.37" cy="214.22" r="1.9"/><circle cx="371.82" cy="214.18" r="1.9"/><circle cx="379.12" cy="214.14" r="1.9"/><circle cx="385.42" cy="214.1" r="1.9"/><circle cx="391.2" cy="214.06" r="1.9"/><circle cx="396.29" cy="214.03" r="1.9"/><circle cx="400.55" cy="214" r="1.9"/><circle cx="404.5" cy="213.97" r="1.9"/><circle cx="408.15" cy="213.95" r="1.9"/><circle cx="411.49" cy="213.93" r="1.9"/><circle cx="414.61" cy="213.91" r="1.9"/><circle cx="417.57" cy="213.89" r="1.9"/><circle cx="420.46" cy="213.87" r="1.9"/><circle cx="423.27" cy="213.85" r="1.9"/><circle cx="426.01" cy="213.83" r="1.9"/><circle cx="428.82" cy="213.81" r="1.9"/><circle cx="431.71" cy="213.8" r="1.9"/><circle cx="434.52" cy="213.78" r="1.9"/><circle cx="437.26" cy="213.76" r="1.9"/><circle cx="439.92" cy="213.74" r="1.9"/><circle cx="442.58" cy="213.72" r="1.9"/><circle cx="445.31" cy="213.71" r="1.9"/></g>
<g class="s1"><path d="M288.22 262L290.82 266.55L285.62 266.55Z"/><path d="M290.88 215.3L293.48 219.85L288.28 219.85Z"/><path d="M295.97 207.49L298.57 212.04L293.37 212.04Z"/><path d="M304.1 206.91L306.7 211.46L301.5 211.46Z"/><path d="M313.3 207.5L315.9 212.05L310.7 212.05Z"/><path d="M319.99 207.79L322.59 212.34L317.39 212.34Z"/><path d="M326.6 208.29L329.2 212.84L324 212.84Z"/><path d="M331.69 208.76L334.29 213.31L329.09 213.31Z"/><path d="M336.4 209.19L339 213.74L333.8 213.74Z"/><path d="M340.89 209.6L343.49 214.15L338.29 214.15Z"/><path d="M344.76 209.95L347.36 214.5L342.16 214.5Z"/><path d="M348.18 210.25L350.78 214.8L345.58 214.8Z"/><path d="M351.07 210.45L353.67 215L348.47 215Z"/><path d="M353.96 210.65L356.56 215.2L351.36 215.2Z"/><path d="M356.7 210.85L359.3 215.4L354.1 215.4Z"/><path d="M359.36 211.01L361.96 215.56L356.76 215.56Z"/><path d="M361.86 211.06L364.46 215.61L359.26 215.61Z"/><path d="M364.3 211.1L366.9 215.65L361.7 215.65Z"/><path d="M366.65 211.15L369.25 215.7L364.05 215.7Z"/><path d="M368.93 211.19L371.53 215.74L366.33 215.74Z"/><path d="M371.21 211.24L373.81 215.79L368.61 215.79Z"/><path d="M373.42 211.28L376.02 215.83L370.82 215.83Z"/><path d="M375.47 211.32L378.07 215.87L372.87 215.87Z"/><path d="M377.52 211.36L380.12 215.91L374.92 215.91Z"/><path d="M379.57 211.4L382.17 215.95L376.97 215.95Z"/><path d="M381.55 211.44L384.15 215.99L378.95 215.99Z"/><path d="M383.52 211.47L386.12 216.02L380.92 216.02Z"/><path d="M385.58 211.51L388.18 216.06L382.98 216.06Z"/><path d="M387.55 211.55L390.15 216.1L384.95 216.1Z"/><path d="M389.53 211.59L392.13 216.14L386.93 216.14Z"/></g>
<g class="s3"><path d="M286.22 274.8L290.22 278.8M286.22 278.8L290.22 274.8"/><path d="M287.59 234.6L291.59 238.6M287.59 238.6L291.59 234.6"/><path d="M289.87 220L293.87 224M289.87 224L293.87 220"/><path d="M293.82 212.4L297.82 216.4M293.82 216.4L297.82 212.4"/><path d="M297.77 209.4L301.77 213.4M297.77 213.4L301.77 209.4"/><path d="M301.72 208.5L305.72 212.5M301.72 212.5L305.72 208.5"/><path d="M305.52 208.3L309.52 212.3M305.52 212.3L309.52 208.3"/><path d="M308.26 208.36L312.26 212.36M308.26 212.36L312.26 208.36"/><path d="M310.92 208.41L314.92 212.41M310.92 212.41L314.92 208.41"/><path d="M313.2 208.46L317.2 212.46M313.2 212.46L317.2 208.46"/><path d="M315.1 208.5L319.1 212.5M315.1 212.5L319.1 208.5"/><path d="M317.68 208.67L321.68 212.67M317.68 212.67L321.68 208.67"/><path d="M320.19 208.84L324.19 212.84M320.19 212.84L324.19 208.84"/><path d="M322.62 209L326.62 213M322.62 213L326.62 209"/><path d="M324.98 209.15L328.98 213.15M324.98 213.15L328.98 209.15"/><path d="M327.18 209.29L331.18 213.29M327.18 213.29L331.18 209.29"/><path d="M329.39 209.44L333.39 213.44M329.39 213.44L333.39 209.44"/><path d="M331.44 209.57L335.44 213.57M331.44 213.57L335.44 209.57"/><path d="M333.42 209.71L337.42 213.71M333.42 213.71L337.42 209.71"/><path d="M335.32 209.83L339.32 213.83M335.32 213.83L339.32 209.83"/><path d="M337.14 209.95L341.14 213.95M337.14 213.95L341.14 209.95"/><path d="M338.89 210.06L342.89 214.06M338.89 214.06L342.89 210.06"/><path d="M340.48 210.17L344.48 214.17M340.48 214.17L344.48 210.17"/><path d="M342.08 210.28L346.08 214.28M342.08 214.28L346.08 210.28"/><path d="M343.52 210.37L347.52 214.37M343.52 214.37L347.52 210.37"/><path d="M344.89 210.46L348.89 214.46M344.89 214.46L348.89 210.46"/><path d="M346.18 210.55L350.18 214.55M346.18 214.55L350.18 210.55"/><path d="M347.4 210.62L351.4 214.62M347.4 214.62L351.4 210.62"/><path d="M348.46 210.7L352.46 214.7M348.46 214.7L352.46 210.7"/><path d="M349.53 210.77L353.53 214.77M349.53 214.77L353.53 210.77"/></g>
<g class="s2"><path d="M497.22 259.7H503.22M500.22 256.7V262.7"/><path d="M499.73 240H505.73M502.73 237V243"/><path d="M502.92 233.8H508.92M505.92 230.8V236.8"/><path d="M508.47 232.4H514.47M511.47 229.4V235.4"/><path d="M515 232.39H521M518 229.39V235.39"/><path d="M520.32 232.38H526.32M523.32 229.38V235.38"/><path d="M525.72 232.38H531.72M528.72 229.38V235.38"/><path d="M529.98 232.37H535.98M532.98 229.37V235.37"/><path d="M533.47 232.36H539.47M536.47 229.36V235.36"/><path d="M536.89 232.36H542.89M539.89 229.36V235.36"/><path d="M540.77 232.35H546.77M543.77 229.35V235.35"/><path d="M543.81 232.35H549.81M546.81 229.35V235.35"/><path d="M546.47 232.35H552.47M549.47 229.35V235.35"/><path d="M548.9 232.34H554.9M551.9 229.34V235.34"/><path d="M551.18 232.34H557.18M554.18 229.34V235.34"/><path d="M553.38 232.34H559.38M556.38 229.34V235.34"/><path d="M555.51 232.33H561.51M558.51 229.33V235.33"/><path d="M557.56 232.33H563.56M560.56 229.33V235.33"/><path d="M559.54 232.33H565.54M562.54 229.33V235.33"/><path d="M561.52 232.32H567.52M564.52 229.32V235.32"/><path d="M563.42 232.32H569.42M566.42 229.32V235.32"/><path d="M565.24 232.32H571.24M568.24 229.32V235.32"/><path d="M567.06 232.32H573.06M570.06 229.32V235.32"/><path d="M568.89 232.31H574.89M571.89 229.31V235.31"/><path d="M570.64 232.31H576.64M573.64 229.31V235.31"/><path d="M572.38 232.31H578.38M575.38 229.31V235.31"/><path d="M574.13 232.31H580.13M577.13 229.31V235.31"/><path d="M575.8 232.3H581.8M578.8 229.3V235.3"/><path d="M577.48 232.3H583.48M580.48 229.3V235.3"/></g>
<g class="s0"><circle cx="499.76" cy="251.8" r="1.9"/><circle cx="505.69" cy="238.7" r="1.9"/><circle cx="514.89" cy="235.6" r="1.9"/><circle cx="524.92" cy="234.6" r="1.9"/><circle cx="534.72" cy="234.2" r="1.9"/><circle cx="543.62" cy="234.18" r="1.9"/><circle cx="551.98" cy="234.16" r="1.9"/><circle cx="560.56" cy="234.14" r="1.9"/><circle cx="568.47" cy="234.12" r="1.9"/><circle cx="576.37" cy="234.1" r="1.9"/><circle cx="583.82" cy="234.08" r="1.9"/><circle cx="591.12" cy="234.06" r="1.9"/><circle cx="597.42" cy="234.05" r="1.9"/><circle cx="603.2" cy="234.03" r="1.9"/><circle cx="608.29" cy="234.02" r="1.9"/><circle cx="612.55" cy="234.01" r="1.9"/><circle cx="616.5" cy="234" r="1.9"/><circle cx="620.15" cy="233.99" r="1.9"/><circle cx="623.49" cy="233.98" r="1.9"/><circle cx="626.61" cy="233.98" r="1.9"/><circle cx="629.57" cy="233.97" r="1.9"/><circle cx="632.46" cy="233.96" r="1.9"/><circle cx="635.27" cy="233.96" r="1.9"/><circle cx="638.01" cy="233.95" r="1.9"/><circle cx="640.82" cy="233.94" r="1.9"/><circle cx="643.71" cy="233.94" r="1.9"/><circle cx="646.52" cy="233.93" r="1.9"/><circle cx="649.26" cy="233.92" r="1.9"/><circle cx="651.92" cy="233.92" r="1.9"/><circle cx="654.58" cy="233.91" r="1.9"/><circle cx="657.31" cy="233.9" r="1.9"/></g>
<g class="s1"><path d="M500.22 253.1L502.82 257.65L497.62 257.65Z"/><path d="M502.88 234.52L505.48 239.07L500.28 239.07Z"/><path d="M507.97 230.88L510.57 235.43L505.37 235.43Z"/><path d="M516.1 230.09L518.7 234.64L513.5 234.64Z"/><path d="M525.3 229.8L527.9 234.35L522.7 234.35Z"/><path d="M531.99 229.8L534.59 234.35L529.39 234.35Z"/><path d="M538.6 229.8L541.2 234.35L536 234.35Z"/><path d="M543.69 229.8L546.29 234.35L541.09 234.35Z"/><path d="M548.4 229.8L551 234.35L545.8 234.35Z"/><path d="M552.89 229.8L555.49 234.35L550.29 234.35Z"/><path d="M556.76 229.8L559.36 234.35L554.16 234.35Z"/><path d="M560.18 229.8L562.78 234.35L557.58 234.35Z"/><path d="M563.07 229.8L565.67 234.35L560.47 234.35Z"/><path d="M565.96 229.8L568.56 234.35L563.36 234.35Z"/><path d="M568.7 229.8L571.3 234.35L566.1 234.35Z"/><path d="M571.36 229.8L573.96 234.35L568.76 234.35Z"/><path d="M573.86 229.8L576.46 234.35L571.26 234.35Z"/><path d="M576.3 229.8L578.9 234.35L573.7 234.35Z"/><path d="M578.65 229.8L581.25 234.35L576.05 234.35Z"/><path d="M580.93 229.8L583.53 234.35L578.33 234.35Z"/><path d="M583.21 229.8L585.81 234.35L580.61 234.35Z"/><path d="M585.42 229.8L588.02 234.35L582.82 234.35Z"/><path d="M587.47 229.8L590.07 234.35L584.87 234.35Z"/><path d="M589.52 229.8L592.12 234.35L586.92 234.35Z"/><path d="M591.57 229.8L594.17 234.35L588.97 234.35Z"/><path d="M593.55 229.8L596.15 234.35L590.95 234.35Z"/><path d="M595.52 229.8L598.12 234.35L592.92 234.35Z"/><path d="M597.58 229.8L600.18 234.35L594.98 234.35Z"/><path d="M599.55 229.8L602.15 234.35L596.95 234.35Z"/><path d="M601.53 229.8L604.13 234.35L598.93 234.35Z"/></g>
<g class="s3"><path d="M498.22 260L502.22 264M498.22 264L502.22 260"/><path d="M499.59 241.4L503.59 245.4M499.59 245.4L503.59 241.4"/><path d="M501.87 237.3L505.87 241.3M501.87 241.3L505.87 237.3"/><path d="M505.82 234.9L509.82 238.9M505.82 238.9L509.82 234.9"/><path d="M509.77 233.8L513.77 237.8M509.77 237.8L513.77 233.8"/><path d="M513.72 233.38L517.72 237.38M513.72 237.38L517.72 233.38"/><path d="M517.52 232.98L521.52 236.98M517.52 236.98L521.52 232.98"/><path d="M520.26 232.78L524.26 236.78M520.26 236.78L524.26 232.78"/><path d="M522.92 232.6L526.92 236.6M522.92 236.6L526.92 232.6"/><path d="M525.2 232.43L529.2 236.43M525.2 236.43L529.2 232.43"/><path d="M527.1 232.3L531.1 236.3M527.1 236.3L531.1 232.3"/><path d="M529.68 232.3L533.68 236.3M529.68 236.3L533.68 232.3"/><path d="M532.19 232.3L536.19 236.3M532.19 236.3L536.19 232.3"/><path d="M534.62 232.3L538.62 236.3M534.62 236.3L538.62 232.3"/><path d="M536.98 232.3L540.98 236.3M536.98 236.3L540.98 232.3"/><path d="M539.18 232.3L543.18 236.3M539.18 236.3L543.18 232.3"/><path d="M541.39 232.3L545.39 236.3M541.39 236.3L545.39 232.3"/><path d="M543.44 232.3L547.44 236.3M543.44 236.3L547.44 232.3"/><path d="M545.42 232.3L549.42 236.3M545.42 236.3L549.42 232.3"/><path d="M547.32 232.3L551.32 236.3M547.32 236.3L551.32 232.3"/><path d="M549.14 232.3L553.14 236.3M549.14 236.3L553.14 232.3"/><path d="M550.89 232.3L554.89 236.3M550.89 236.3L554.89 232.3"/><path d="M552.48 232.3L556.48 236.3M552.48 236.3L556.48 232.3"/><path d="M554.08 232.3L558.08 236.3M554.08 236.3L558.08 232.3"/><path d="M555.52 232.3L559.52 236.3M555.52 236.3L559.52 232.3"/><path d="M556.89 232.3L560.89 236.3M556.89 236.3L560.89 232.3"/><path d="M558.18 232.3L562.18 236.3M558.18 236.3L562.18 232.3"/><path d="M559.4 232.3L563.4 236.3M559.4 236.3L563.4 232.3"/><path d="M560.46 232.3L564.46 236.3M560.46 236.3L564.46 232.3"/><path d="M561.53 232.3L565.53 236.3M561.53 236.3L565.53 232.3"/></g>
</svg>
</body></html>
